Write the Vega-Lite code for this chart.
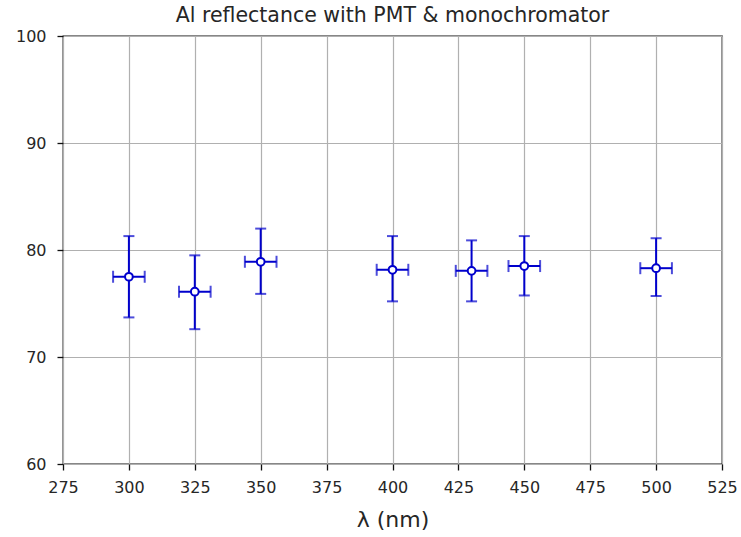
{
  "$schema": "https://vega.github.io/schema/vega-lite/v6.json",
  "autosize": "none",
  "width": 659,
  "height": 428,
  "padding": {"left": 63, "top": 36, "right": 19, "bottom": 73},
  "background": "white",
  "title": {"text": "Al reflectance with PMT & monochromator", "font": "DejaVu Sans", "fontSize": 20.5, "fontWeight": "normal", "color": "#262626", "offset": 2},
  "config": {
    "view": {"stroke": "#111", "strokeWidth": 1.3},
    "axis": {
      "labelFont": "DejaVu Sans", "labelFontSize": 16, "labelColor": "#262626",
      "titleFont": "DejaVu Sans", "titleFontWeight": "normal", "titleColor": "#262626",
      "gridColor": "#b0b0b0", "gridWidth": 1.2, "gridOpacity": 1,
      "tickColor": "#111", "tickSize": 6, "tickWidth": 1.3, "domain": false,
      "labelFlush": false, "labelOverlap": false
    }
  },
  "data": {"values": [
    {"wl": 300, "r": 77.5, "rlo": 73.7, "rhi": 81.3, "wlo": 294, "whi": 306},
    {"wl": 325, "r": 76.1, "rlo": 72.6, "rhi": 79.5, "wlo": 319, "whi": 331},
    {"wl": 350, "r": 78.9, "rlo": 75.9, "rhi": 82.0, "wlo": 344, "whi": 356},
    {"wl": 400, "r": 78.15, "rlo": 75.2, "rhi": 81.3, "wlo": 394, "whi": 406},
    {"wl": 430, "r": 78.05, "rlo": 75.2, "rhi": 80.9, "wlo": 424, "whi": 436},
    {"wl": 450, "r": 78.5, "rlo": 75.75, "rhi": 81.3, "wlo": 444, "whi": 456},
    {"wl": 500, "r": 78.3, "rlo": 75.7, "rhi": 81.1, "wlo": 494, "whi": 506}
  ]},
  "encoding": {
    "x": {"field": "wl", "type": "quantitative", "scale": {"domain": [275, 525], "nice": false, "zero": false},
          "axis": {"values": [275,300,325,350,375,400,425,450,475,500,525], "title": "λ (nm)", "titleFontSize": 22, "titlePadding": 14, "labelPadding": 9}},
    "y": {"field": "r", "type": "quantitative", "scale": {"domain": [60, 100], "nice": false, "zero": false},
          "axis": {"values": [60,70,80,90,100], "title": null, "labelPadding": 11}}
  },
  "layer": [
    {"mark": {"type": "rule", "color": "#0000cc", "strokeWidth": 2},
     "encoding": {"y": {"field": "rlo", "type": "quantitative"}, "y2": {"field": "rhi"}}},
    {"mark": {"type": "rule", "color": "#0000cc", "strokeWidth": 2},
     "encoding": {"x": {"field": "wlo", "type": "quantitative"}, "x2": {"field": "whi"}}},
    {"mark": {"type": "tick", "orient": "horizontal", "color": "#0000cc", "thickness": 2, "size": 11},
     "encoding": {"y": {"field": "rlo", "type": "quantitative"}}},
    {"mark": {"type": "tick", "orient": "horizontal", "color": "#0000cc", "thickness": 2, "size": 11},
     "encoding": {"y": {"field": "rhi", "type": "quantitative"}}},
    {"mark": {"type": "tick", "orient": "vertical", "color": "#0000cc", "thickness": 2, "size": 12},
     "encoding": {"x": {"field": "wlo", "type": "quantitative"}}},
    {"mark": {"type": "tick", "orient": "vertical", "color": "#0000cc", "thickness": 2, "size": 12},
     "encoding": {"x": {"field": "whi", "type": "quantitative"}}},
    {"mark": {"type": "point", "shape": "circle", "filled": true, "fill": "white", "stroke": "#0000cc", "strokeWidth": 2, "size": 60, "opacity": 1}}
  ]
}
